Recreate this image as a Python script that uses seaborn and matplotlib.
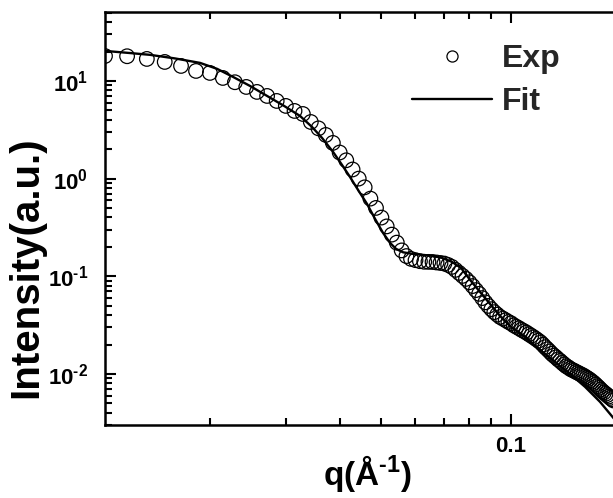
import matplotlib
matplotlib.use("Agg")
import numpy as np
import pandas as pd
import matplotlib.pyplot as plt
import seaborn as sns
from matplotlib.lines import Line2D
from matplotlib.ticker import FixedLocator, FuncFormatter, LogLocator, NullFormatter

# Measured scattering curve: q in 1/Angstrom, intensity in arbitrary units
q_exp = [
    0.01140, 0.01283, 0.01426, 0.01569, 0.01712, 0.01855, 0.01998, 0.02141, 0.02284, 0.02427,
    0.02570, 0.02713, 0.02856, 0.02999, 0.03142, 0.03285, 0.03428, 0.03571, 0.03714, 0.03857,
    0.04000, 0.04143, 0.04286, 0.04429, 0.04572, 0.04715, 0.04858, 0.05001, 0.05144, 0.05287,
    0.05430, 0.05573, 0.05716, 0.05859, 0.06002, 0.06145, 0.06288, 0.06431, 0.06574, 0.06717,
    0.06860, 0.07003, 0.07146, 0.07289, 0.07432, 0.07575, 0.07718, 0.07861, 0.08004, 0.08147,
    0.08290, 0.08433, 0.08576, 0.08719, 0.08862, 0.09005, 0.09148, 0.09291, 0.09434, 0.09577,
    0.09720, 0.09863, 0.10006, 0.10149, 0.10292, 0.10435, 0.10578, 0.10721, 0.10864, 0.11007,
    0.11150, 0.11293, 0.11436, 0.11579, 0.11722, 0.11865, 0.12008, 0.12151, 0.12294, 0.12437,
    0.12580, 0.12723, 0.12866, 0.13009, 0.13152, 0.13295, 0.13438, 0.13581, 0.13724, 0.13867,
    0.14010, 0.14153, 0.14296, 0.14439, 0.14582, 0.14725, 0.14868, 0.15011, 0.15154, 0.15297,
    0.15440, 0.15583, 0.15726, 0.15869, 0.16012, 0.16155, 0.16298, 0.16441, 0.16584, 0.16727,
    0.16870, 0.17013, 0.17156, 0.17299,
]
i_exp = [
    18.0, 17.9, 16.8, 15.65, 14.24, 12.66, 12.08, 10.73, 9.70, 8.68,
    7.72, 7.02, 6.24, 5.55, 4.93, 4.59, 3.80, 3.27, 2.80, 2.32,
    1.85, 1.54, 1.24, 1.00, 0.814, 0.624, 0.501, 0.399, 0.324, 0.267,
    0.221, 0.184, 0.161, 0.1507, 0.1462, 0.1427, 0.1407, 0.1404, 0.1401, 0.1384,
    0.1368, 0.1349, 0.1305, 0.1248, 0.1163, 0.1083, 0.1009, 0.0940, 0.0868, 0.0794,
    0.0722, 0.0661, 0.0598, 0.0541, 0.0497, 0.0460, 0.0429, 0.0405, 0.0383, 0.0369,
    0.0355, 0.0341, 0.0330, 0.0315, 0.0304, 0.0294, 0.0283, 0.0274, 0.0265, 0.0255,
    0.0246, 0.0237, 0.0228, 0.0219, 0.0210, 0.0199, 0.0188, 0.0179, 0.0170, 0.0161,
    0.0154, 0.0148, 0.0141, 0.0136, 0.0130, 0.0125, 0.0120, 0.0117, 0.0113, 0.0110,
    0.0108, 0.0105, 0.0103, 0.01005, 0.00984, 0.00963, 0.00938, 0.00912, 0.00889, 0.00862,
    0.00834, 0.00807, 0.00777, 0.00748, 0.00721, 0.00692, 0.00667, 0.00645, 0.00626, 0.00607,
    0.00587, 0.00569, 0.00552, 0.00535,
]

# Model fit curve
q_fit = [
    0.01140, 0.01304, 0.01451, 0.01658, 0.01896, 0.02076, 0.02261, 0.02476, 0.02713, 0.02971,
    0.03236, 0.03450, 0.03640, 0.03860, 0.04051, 0.04227, 0.04413, 0.04630, 0.04833, 0.05044,
    0.05236, 0.05406, 0.05613, 0.05889, 0.06215, 0.06556, 0.06914, 0.07294, 0.07655, 0.08034,
    0.08472, 0.08937, 0.09429, 0.10000, 0.10780, 0.11680, 0.12650, 0.13710, 0.14860, 0.16100,
    0.17440,
]
i_fit = [
    20.3, 19.3, 18.5, 17.0, 15.3, 13.3, 11.0, 8.89, 7.02, 5.55,
    4.38, 3.38, 2.61, 1.88, 1.38, 1.04, 0.766, 0.551, 0.387, 0.278,
    0.220, 0.191, 0.176, 0.170, 0.1656, 0.1617, 0.1543, 0.1404, 0.1219, 0.0919,
    0.0692, 0.0522, 0.0393, 0.0303, 0.0240, 0.01765, 0.01330, 0.01002, 0.00738, 0.00518,
    0.00339,
]

sns.set_theme(style="ticks")
plt.rcParams["font.family"] = ["Liberation Sans", "DejaVu Sans"]
plt.rcParams["font.weight"] = "bold"
plt.rcParams["mathtext.fontset"] = "custom"
plt.rcParams["mathtext.rm"] = "Liberation Sans:bold"
plt.rcParams["mathtext.bf"] = "Liberation Sans:bold"
plt.rcParams["mathtext.it"] = "Liberation Sans:bold"
plt.rcParams["mathtext.sf"] = "Liberation Sans:bold"

W, H = 613, 498
fig = plt.figure(figsize=(W / 100, H / 100), dpi=100)
ax = fig.add_axes([105 / W, 73 / H, 1 - 105 / W, 413 / H])

exp_df = pd.DataFrame({"q": q_exp, "I": i_exp})
fit_df = pd.DataFrame({"q": q_fit, "I": i_fit})

sns.scatterplot(data=exp_df, x="q", y="I", ax=ax, marker="o", s=110,
                facecolors="none", edgecolor="black", linewidth=0.9, zorder=2)
ax.collections[0].set_facecolor("none")
sns.lineplot(data=fit_df, x="q", y="I", ax=ax, color="black", linewidth=1.7,
             sort=False, estimator=None, zorder=3)

ax.set_xscale("log")
ax.set_yscale("log")
ax.set_xlim(0.01140, 0.1726)
ax.set_ylim(0.0030, 50.8)

ax.xaxis.set_major_locator(FixedLocator([0.1]))
ax.xaxis.set_major_formatter(FuncFormatter(lambda v, p: "0.1"))
ax.xaxis.set_minor_locator(LogLocator(base=10, subs=np.arange(2, 10), numticks=20))
ax.xaxis.set_minor_formatter(NullFormatter())
ax.yaxis.set_major_locator(LogLocator(base=10, numticks=20))
ax.yaxis.set_major_formatter(
    FuncFormatter(lambda v, p: r"$\mathbf{10^{\text{%d}}}$" % int(round(np.log10(v)))))
ax.yaxis.set_minor_locator(LogLocator(base=10, subs=np.arange(2, 10), numticks=20))
ax.yaxis.set_minor_formatter(NullFormatter())

ax.tick_params(which="both", direction="in", top=True, right=False,
               width=1.5, color="black", labelsize=16, labelcolor="black")
ax.tick_params(which="major", length=8)
ax.tick_params(which="minor", length=5)
ax.tick_params(axis="y", which="major", pad=12)
ax.tick_params(axis="x", which="major", pad=8)
for side in ["left", "bottom", "top"]:
    ax.spines[side].set_linewidth(1.8)
    ax.spines[side].set_color("black")
ax.spines["right"].set_visible(False)

ax.set_ylabel("Intensity(a.u.)", fontsize=29, fontweight="bold", color="black")
ax.yaxis.set_label_coords(-0.118, 0.383)
ax.set_xlabel(r"q(Å$^{\text{-1}}$)", fontsize=24, fontweight="bold", color="black")
ax.xaxis.set_label_coords(0.5167, -0.068)

handles = [
    Line2D([], [], marker="o", linestyle="none", markerfacecolor="none",
           markeredgecolor="black", markersize=8, markeredgewidth=0.9),
    Line2D([], [], color="black", linewidth=1.7),
]
ax.legend(handles, ["Exp", "Fit"], loc="upper left",
          bbox_to_anchor=(412 / W, 1 - 44 / H), bbox_transform=fig.transFigure,
          frameon=False, prop={"size": 23, "weight": "bold"},
          handlelength=2.5, handletextpad=0.3, labelspacing=0.4,
          borderpad=0, borderaxespad=0)

fig.savefig("out.png", dpi=100)
